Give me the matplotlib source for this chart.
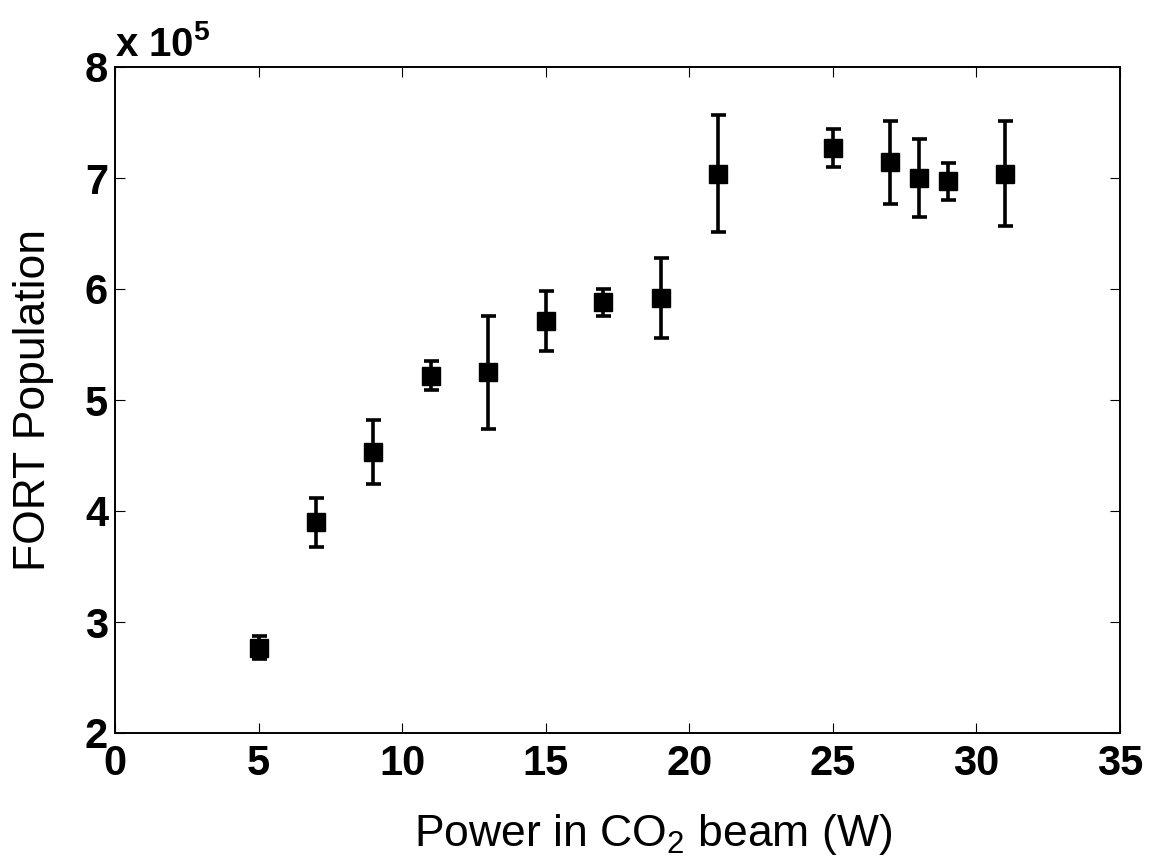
import matplotlib.pyplot as plt

plt.rcParams['font.family'] = ['Liberation Sans', 'DejaVu Sans']
plt.rcParams['mathtext.fontset'] = 'custom'
plt.rcParams['mathtext.rm'] = 'Liberation Sans'
plt.rcParams['mathtext.bf'] = 'Liberation Sans:bold'

# data in units of 1e5 atoms
power = [5, 7, 9, 11, 13, 15, 17, 19, 21, 25, 27, 28, 29, 31]
population = [2.77, 3.90, 4.53, 5.22, 5.25, 5.71, 5.88, 5.92, 7.04, 7.27, 7.14, 7.00, 6.97, 7.04]
err = [0.10, 0.22, 0.29, 0.13, 0.51, 0.27, 0.12, 0.36, 0.53, 0.17, 0.37, 0.35, 0.165, 0.47]

fig = plt.figure(figsize=(11.6, 8.67), dpi=100)
ax = fig.add_axes([115 / 1160, 1 - 733 / 867, (1120 - 115) / 1160, (733 - 67) / 867])

ax.errorbar(power, population, yerr=err, fmt='s', color='black', markersize=13.5,
            elinewidth=2.6, capsize=5.4, capthick=2.6)

ax.set_xlim(0, 35)
ax.set_ylim(2, 8)
ax.set_xticks(range(0, 36, 5))
ax.set_yticks(range(2, 9))
ax.tick_params(direction='in', top=True, right=True, length=7, width=0.8, labelsize=30)
ax.tick_params(axis='x', pad=8)
ax.tick_params(axis='y', pad=5)
for lab in ax.get_xticklabels() + ax.get_yticklabels():
    lab.set_fontweight('bold')
for s in ax.spines.values():
    s.set_linewidth(1.4)

ax.set_xlabel('Power in CO$_{\\mathrm{2}}$ beam (W)', fontsize=32, labelpad=20)
ax.xaxis.label.set_x(0.535)
ax.set_ylabel('FORT Population', fontsize=32, labelpad=22)
ax.text(0, 1.004, 'x 10$^{\\mathbf{5}}$', transform=ax.transAxes, fontsize=29,
        fontweight='bold', ha='left', va='bottom')

fig.savefig('out.png', dpi=100)
